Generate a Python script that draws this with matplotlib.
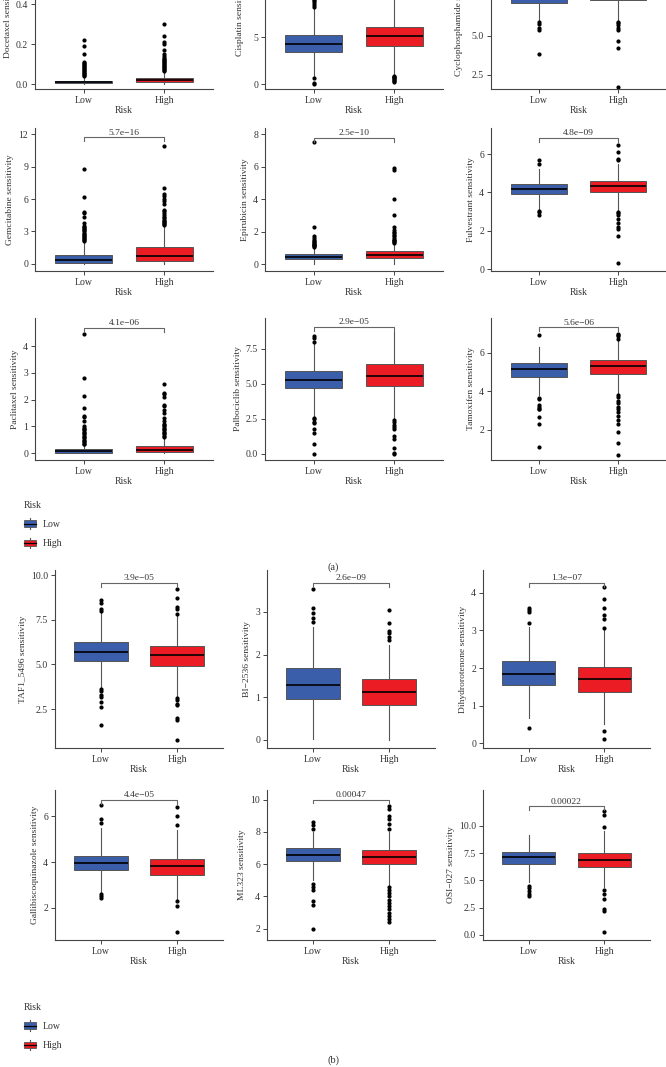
import matplotlib
matplotlib.use("Agg")
import matplotlib.pyplot as plt
from matplotlib.legend_handler import HandlerBase
from matplotlib.patches import Rectangle, Patch
from matplotlib.lines import Line2D

plt.rcParams['font.family'] = ['Liberation Serif', 'DejaVu Serif']

# ---------------- data ----------------
groups = ["Low", "High"]
drugs = ["Docetaxel", "Cisplatin", "Cyclophosphamide",
         "Gemcitabine", "Epirubicin", "Fulvestrant",
         "Paclitaxel", "Palbociclib", "Tamoxifen",
         "TAF1_5496", "BI\u22122536", "Dihydrorotenone",
         "Gallibiscoquinazole", "ML323", "OSI\u2212027"]
pvalues = [None, None, None,
           "5.7e\u221216", "2.5e\u221210", "4.8e\u221209",
           "4.1e\u221206", "2.9e\u221205", "5.6e\u221206",
           "3.9e\u221205", "2.6e\u221209", "1.3e\u221207",
           "4.4e\u221205", "0.00047", "0.00022"]
p_height = [None, None, None,
            11.7, 7.75, 6.83,
            4.67, 9.07, 7.33,
            9.55, 3.68, 4.27,
            6.72, 10.0, 11.8]

low_q1 = [0.003, 3.4, 7.1, 0.1, 0.3, 3.9, 0.02, 4.7, 4.75, 5.2, 0.96, 1.55, 3.65, 6.2, 6.5]
low_med = [0.008, 4.3, 7.7, 0.4, 0.42, 4.17, 0.06, 5.3, 5.13, 5.68, 1.29, 1.84, 3.95, 6.6, 7.15]
low_q3 = [0.015, 5.2, 8.2, 0.85, 0.6, 4.45, 0.15, 5.95, 5.45, 6.25, 1.69, 2.19, 4.25, 7.0, 7.6]
low_wlo = [0.0, 0.7, 6.0, 0.0, 0.0, 3.1, 0.0, 2.7, 3.8, 3.7, 0.02, 0.67, 2.7, 5.0, 4.9]
low_whi = [0.035, 8.0, 9.3, 2.0, 1.0, 5.2, 0.3, 7.9, 6.3, 7.9, 2.65, 3.1, 5.5, 8.0, 9.2]
low_fliers = [
    [0.04, 0.045, 0.05, 0.055, 0.06, 0.065, 0.07, 0.075, 0.08, 0.085, 0.09, 0.095, 0.1, 0.105, 0.11, 0.15, 0.19, 0.22],
    [8.2, 8.4, 8.6, 8.8, 9.0, 0.6, 0.1, 0.0],
    [5.9, 5.75, 5.5, 5.4, 3.85],
    [2.1, 2.2, 2.3, 2.4, 2.5, 2.6, 2.7, 2.8, 2.9, 3.0, 3.1, 3.2, 3.3, 3.4, 3.5, 3.8, 4.3, 4.7, 4.8, 6.2, 8.8],
    [1.05, 1.1, 1.15, 1.2, 1.25, 1.3, 1.35, 1.4, 1.5, 1.6, 1.7, 2.25, 7.5],
    [5.7, 5.5, 3.05, 3.0, 2.8],
    [0.32, 0.35, 0.4, 0.45, 0.5, 0.55, 0.6, 0.65, 0.7, 0.75, 0.8, 0.85, 0.9, 0.95, 1.0, 1.2, 1.35, 1.4, 1.7, 2.15, 2.8, 4.45],
    [8.0, 8.3, 8.4, 2.6, 2.5, 2.3, 2.2, 1.8, 1.5, 0.7, 0.0],
    [6.95, 3.65, 3.6, 3.3, 3.2, 3.1, 3.05, 2.65, 2.3, 1.1],
    [8.0, 8.1, 8.45, 8.6, 3.6, 3.5, 3.3, 3.2, 2.9, 2.6, 1.6],
    [2.76, 2.86, 2.97, 3.1, 3.53],
    [3.2, 3.5, 3.55, 3.6, 0.4],
    [6.5, 5.9, 5.7, 2.6, 2.5, 2.45],
    [8.2, 8.4, 8.6, 4.8, 4.6, 4.4, 3.7, 3.5, 2.0],
    [4.5, 4.3, 4.0, 3.8, 3.6],
]

high_q1 = [0.008, 4.1, 7.3, 0.25, 0.35, 4.0, 0.03, 4.85, 4.9, 4.9, 0.82, 1.36, 3.45, 6.0, 6.2]
high_med = [0.018, 5.1, 7.9, 0.75, 0.55, 4.33, 0.12, 5.6, 5.3, 5.5, 1.12, 1.71, 3.85, 6.45, 6.9]
high_q3 = [0.03, 6.1, 8.5, 1.6, 0.8, 4.62, 0.25, 6.4, 5.6, 6.0, 1.43, 2.03, 4.15, 6.9, 7.5]
high_wlo = [0.0, 1.0, 6.0, 0.0, 0.0, 3.1, 0.0, 2.5, 3.9, 3.2, 0.0, 0.5, 2.4, 4.7, 4.4]
high_whi = [0.06, 10.0, 9.9, 3.5, 1.2, 5.5, 0.55, 8.7, 6.6, 7.7, 2.22, 3.0, 5.4, 8.0, 9.5]
high_fliers = [
    [0.065, 0.07, 0.075, 0.08, 0.085, 0.09, 0.095, 0.1, 0.105, 0.11, 0.115, 0.12, 0.125, 0.13, 0.14, 0.15, 0.17, 0.2, 0.21, 0.24, 0.3],
    [0.9, 0.8, 0.7, 0.6, 0.5, 0.4, 0.3, 0.2],
    [5.9, 5.8, 5.7, 5.5, 5.4, 4.65, 4.2, 1.75],
    [3.6, 3.7, 3.8, 3.9, 4.0, 4.1, 4.2, 4.3, 4.5, 4.7, 4.9, 5.0, 5.5, 5.8, 6.0, 6.3, 6.5, 7.0, 10.9],
    [1.3, 1.35, 1.4, 1.45, 1.5, 1.6, 1.7, 1.8, 1.9, 2.0, 2.1, 2.25, 3.0, 4.0, 5.8, 5.9],
    [5.7, 5.75, 6.1, 6.45, 3.0, 2.9, 2.8, 2.6, 2.4, 2.2, 2.1, 1.75, 0.3],
    [0.6, 0.65, 0.7, 0.75, 0.8, 0.85, 0.9, 0.95, 1.0, 1.05, 1.1, 1.2, 1.3, 1.5, 1.6, 1.75, 1.8, 2.1, 2.2, 2.25, 2.6],
    [2.4, 2.3, 2.1, 1.9, 1.8, 1.3, 1.1, 0.4, 0.1, 0.0],
    [6.7, 6.85, 6.95, 7.0, 3.8, 3.7, 3.5, 3.4, 3.2, 3.1, 2.9, 2.7, 2.5, 2.3, 1.9, 1.3, 0.7],
    [7.8, 8.1, 8.2, 8.7, 9.2, 3.1, 3.0, 2.8, 2.7, 2.0, 1.9, 0.75],
    [2.35, 2.4, 2.5, 2.55, 2.75, 3.05],
    [3.07, 3.3, 3.4, 3.6, 3.85, 4.15, 0.33, 0.1],
    [6.4, 6.0, 5.6, 2.3, 2.1, 0.95],
    [8.2, 8.5, 8.8, 9.0, 9.4, 9.6, 4.6, 4.4, 4.2, 4.0, 3.8, 3.6, 3.4, 3.2, 3.0, 2.8, 2.6, 2.4],
    [9.9, 11.0, 11.4, 4.1, 3.8, 3.3, 2.4, 2.2, 0.3],
]

yticks = [[0.0, 0.2, 0.4], [0, 5, 10], [2.5, 5.0, 7.5, 10.0],
          [0, 3, 6, 9, 12], [0, 2, 4, 6, 8], [0, 2, 4, 6],
          [0, 1, 2, 3, 4], [0.0, 2.5, 5.0, 7.5], [2, 4, 6],
          [2.5, 5.0, 7.5, 10.0], [0, 1, 2, 3], [0, 1, 2, 3, 4],
          [2, 4, 6], [2, 4, 6, 8, 10], [0.0, 2.5, 5.0, 7.5, 10.0]]
yfmt = ["%.1f", "%d", "%.1f", "%d", "%d", "%d", "%d", "%.1f", "%d",
        "%.1f", "%d", "%d", "%d", "%d", "%.1f"]
ylims = [(-0.025, 0.685), (-0.53, 14.6), (1.6, 10.7),
         (-0.65, 12.56), (-0.43, 8.37), (-0.10, 7.36),
         (-0.26, 5.05), (-0.43, 9.71), (0.42, 7.81),
         (0.32, 10.28), (-0.19, 3.98), (-0.13, 4.61),
         (0.6, 7.15), (1.3, 10.6), (-0.46, 13.3)]

# ---------------- layout (pixels) ----------------
W, H = 666, 1067
col_a = [(35, 213), (265, 443), (491, 666)]
col_b = [(55, 223), (267, 435), (483, 650)]
rows = [(-53, 89), (128, 271), (318, 460), (570, 748), (790, 940)]

blue = "#3B5EAB"
red = "#EC1C24"
edge = "#555555"
txtc = "#333333"

fig = plt.figure(figsize=(W / 100, H / 100), dpi=100)

for i, name in enumerate(drugs):
    r = i // 3
    c = i % 3
    L, R = (col_a if r < 3 else col_b)[c]
    T, B = rows[r]
    ax = fig.add_axes([L / W, 1 - B / H, (R - L) / W, (B - T) / H])
    stats = []
    for lab, q1, med, q3, wlo, whi, fl in [
            ("Low", low_q1[i], low_med[i], low_q3[i], low_wlo[i], low_whi[i], low_fliers[i]),
            ("High", high_q1[i], high_med[i], high_q3[i], high_wlo[i], high_whi[i], high_fliers[i])]:
        stats.append(dict(label=lab, q1=q1, med=med, q3=q3, whislo=wlo, whishi=whi, fliers=fl))
    bp = ax.bxp(stats, positions=[1, 2], widths=0.7, patch_artist=True, showcaps=False,
                boxprops=dict(edgecolor=edge, linewidth=0.7),
                medianprops=dict(color="black", linewidth=1.2),
                whiskerprops=dict(color=edge, linewidth=0.8),
                flierprops=dict(marker="o", markersize=2, markerfacecolor="black",
                                markeredgecolor="black", linestyle="none"))
    for patch, col in zip(bp["boxes"], [blue, red]):
        patch.set_facecolor(col)
    ax.set_xlim(0.4, 2.6)
    ax.set_ylim(*ylims[i])
    ax.set_yticks(yticks[i])
    ax.set_yticklabels([yfmt[i] % v for v in yticks[i]])
    ax.set_xticks([1, 2])
    ax.set_xticklabels(groups)
    for s in ["top", "right"]:
        ax.spines[s].set_visible(False)
    for s in ["left", "bottom"]:
        ax.spines[s].set_color("#444444")
        ax.spines[s].set_linewidth(0.8)
    ax.tick_params(axis="both", labelsize=7, colors="#444444", labelcolor=txtc,
                   length=3, width=0.7, pad=2)
    ax.set_ylabel(name + " sensitivity", fontsize=6.8, color=txtc, labelpad=3)
    ax.set_xlabel("Risk", fontsize=7, color=txtc, labelpad=1)
    ax.patch.set_alpha(0)
    if pvalues[i] is not None:
        ph = p_height[i]
        span = ylims[i][1] - ylims[i][0]
        d = span * 0.025
        ax.plot([1, 1, 2, 2], [ph - d, ph, ph, ph - d], color="#666666", lw=0.8,
                clip_on=False)
        ax.text(1.5, ph + span * 0.005, pvalues[i], ha="center", va="bottom",
                fontsize=6.8, color=txtc)


class BoxHandler(HandlerBase):
    def create_artists(self, legend, orig_handle, xdescent, ydescent, width, height,
                       fontsize, trans):
        x0, y0 = -xdescent, -ydescent
        fc = orig_handle.get_facecolor()
        wl = Line2D([x0 + width / 2, x0 + width / 2], [y0 - 0.15 * height, y0 + 1.15 * height],
                    color=edge, lw=0.8, transform=trans)
        rect = Rectangle((x0, y0 + 0.1 * height), width, 0.8 * height, facecolor=fc,
                         edgecolor=edge, lw=0.6, transform=trans)
        med = Line2D([x0, x0 + width], [y0 + 0.5 * height, y0 + 0.5 * height],
                     color="black", lw=0.9, transform=trans)
        return [wl, rect, med]


def add_legend(top_px):
    handles = [Patch(facecolor=blue, label="Low"), Patch(facecolor=red, label="High")]
    leg = fig.legend(handles=handles, handler_map={Patch: BoxHandler()},
                     loc="upper left", bbox_to_anchor=(20 / W, 1 - top_px / H),
                     title="Risk", frameon=False, alignment="left", fontsize=7,
                     title_fontsize=7, labelspacing=1.0, handlelength=1.2,
                     handleheight=0.9, handletextpad=0.7, borderaxespad=0)
    for t in leg.get_texts():
        t.set_color(txtc)
    leg.get_title().set_color(txtc)


add_legend(497)
add_legend(999)

fig.text(333 / W, 1 - 567 / H, "(a)", ha="center", va="center", fontsize=7.5, color=txtc)
fig.text(333 / W, 1 - 1060 / H, "(b)", ha="center", va="center", fontsize=7.5, color=txtc)

fig.savefig("out.png", dpi=100)
